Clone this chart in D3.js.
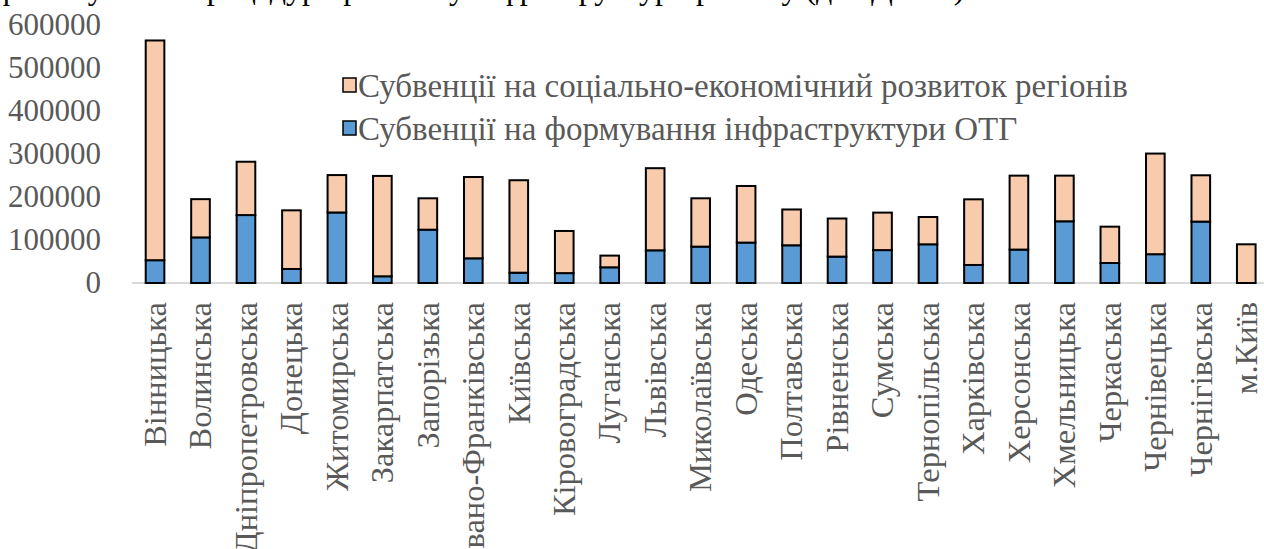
<!DOCTYPE html>
<html>
<head>
<meta charset="utf-8">
<script src="https://cdnjs.cloudflare.com/ajax/libs/d3/7.8.5/d3.min.js"></script>
<style>
  body { margin: 0; background: #fff; }
</style>
</head>
<body>
<script>
//Width and height
var w = 1264;
var h = 549;
var font = "Liberation Serif";

//Regions (categories)
var regions = ["Вінницька", "Волинська", "Дніпропетровська", "Донецька", "Житомирська",
    "Закарпатська", "Запорізька", "Івано-Франківська", "Київська", "Кіровоградська",
    "Луганська", "Львівська", "Миколаївська", "Одеська", "Полтавська", "Рівненська",
    "Сумська", "Тернопільська", "Харківська", "Херсонська", "Хмельницька", "Черкаська",
    "Чернівецька", "Чернігівська", "м.Київ"];

//Субвенції на формування інфраструктури ОТГ (blue, bottom)
var infra = [53000, 106000, 158000, 32600, 164000, 15600, 124000, 57400, 24000, 23000,
    36500, 76000, 84600, 94000, 87700, 61400, 76500, 90000, 41900, 77700, 143500, 46500,
    67000, 142800, 0];

//Субвенції на соціально-економічний розвиток регіонів (peach, top)
var social = [511000, 89000, 124000, 136400, 87000, 233400, 73000, 189100, 215000, 98000,
    27200, 191000, 112400, 131600, 83300, 88600, 87200, 63500, 152700, 172000, 106200, 84500,
    234000, 107700, 90000];

var yTicks = [0, 100000, 200000, 300000, 400000, 500000, 600000];

var seriesNames = ["Субвенції на соціально-економічний розвиток регіонів",
    "Субвенції на формування інфраструктури ОТГ"];

var titleText = "фінансування процедури розвитку інфраструктури регіону (для ДФРР)";

//Build rows for the stack
var rows = regions.map(function(r, i) {
    return { region: r, infra: infra[i], social: social[i] };
});

var stacked = d3.stack().keys(["infra", "social"])(rows);

var color = d3.scaleOrdinal()
    .domain(["infra", "social"])
    .range(["#5B9BD5", "#F8CBAD"]);

//Scales
var x = d3.scaleBand()
    .domain(regions)
    .range([132.3, 1269])
    .paddingInner(0.59)
    .paddingOuter(0.295);

var y = d3.scaleLinear()
    .domain([0, 600000])
    .range([283, 25]);

//Create SVG element
var svg = d3.select("body")
    .append("svg")
    .attr("width", w)
    .attr("height", h)
    .attr("font-family", font);

//Cut-off title at the top
svg.append("text")
    .attr("x", -4)
    .attr("y", -1)
    .attr("font-family", font)
    .attr("font-size", 32)
    .attr("fill", "#000")
    .text(titleText);

//Y axis labels
var yAxis = d3.axisLeft(y)
    .tickValues(yTicks)
    .tickSize(0)
    .tickPadding(0)
    .tickFormat(d3.format("d"));

var yg = svg.append("g")
    .attr("transform", "translate(101,0)")
    .call(yAxis);
yg.select(".domain").remove();
yg.attr("font-family", font).attr("font-size", 31);
yg.selectAll("text")
    .attr("fill", "#595959");

//Baseline
svg.append("line")
    .attr("x1", 132)
    .attr("x2", w)
    .attr("y1", y(0))
    .attr("y2", y(0))
    .attr("stroke", "#D9D9D9")
    .attr("stroke-width", 2);

//Bars
svg.selectAll("g.series")
    .data(stacked)
    .enter()
    .append("g")
    .attr("class", "series")
    .attr("fill", function(d) { return color(d.key); })
    .selectAll("rect")
    .data(function(d) { return d.filter(function(p) { return p[1] - p[0] > 0; }); })
    .enter()
    .append("rect")
    .attr("x", function(d) { return x(d.data.region); })
    .attr("width", x.bandwidth())
    .attr("y", function(d) { return y(d[1]); })
    .attr("height", function(d) { return y(d[0]) - y(d[1]); })
    .attr("stroke", "#000")
    .attr("stroke-width", 2);

//X axis labels (rotated)
var xAxis = d3.axisBottom(x).tickSize(0).tickPadding(0);
var xg = svg.append("g")
    .attr("transform", "translate(0," + y(0) + ")")
    .call(xAxis);
xg.select(".domain").remove();
xg.attr("font-family", font).attr("font-size", 32.5);
xg.selectAll("text")
    .attr("transform", "rotate(-90)")
    .attr("x", -19)
    .attr("y", 0)
    .attr("dy", "0.33em")
    .attr("text-anchor", "end")
    .attr("fill", "#595959");

//Legend
var legendKeys = ["social", "infra"];
var legend = svg.selectAll("g.legend")
    .data(legendKeys)
    .enter()
    .append("g")
    .attr("class", "legend")
    .attr("transform", function(d, i) { return "translate(343," + (78 + i * 43) + ")"; });

legend.append("rect")
    .attr("width", 13)
    .attr("height", 14)
    .attr("fill", function(d) { return color(d); })
    .attr("stroke", "#000")
    .attr("stroke-width", 1.5);

legend.append("text")
    .attr("x", 15)
    .attr("y", 7)
    .attr("dy", "0.35em")
    .attr("font-family", font)
    .attr("font-size", 33)
    .attr("fill", "#595959")
    .text(function(d, i) { return seriesNames[i]; });
</script>
</body>
</html>
